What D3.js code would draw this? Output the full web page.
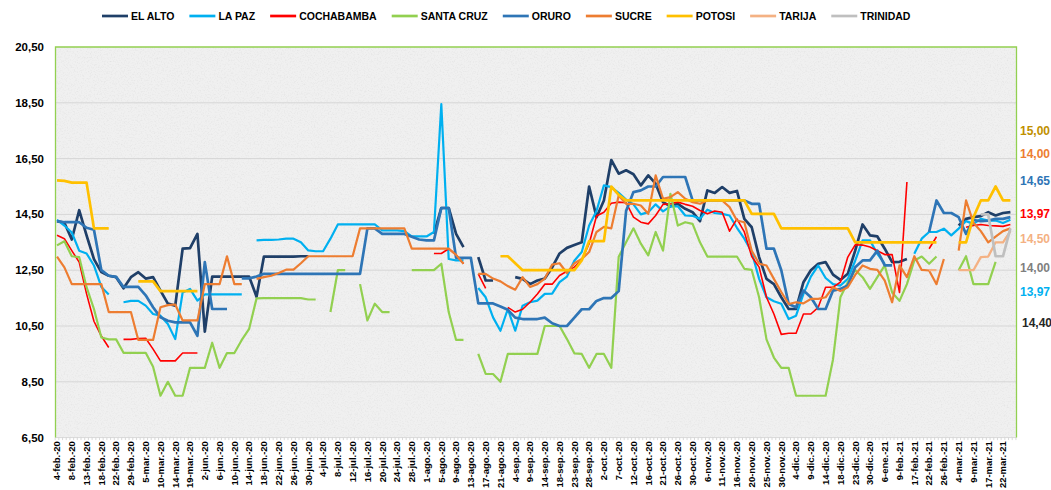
<!DOCTYPE html>
<html><head><meta charset="utf-8">
<script src="https://cdn.jsdelivr.net/npm/d3@7"></script>
<style>
html,body{margin:0;padding:0;background:#fff;}
svg{display:block;font-family:"Liberation Sans",Arial,sans-serif;}
</style></head><body>
<svg id="chart" width="1051" height="490"></svg>
<script>
const _ = null;

const dateLabels = ["4-feb.-20","8-feb.-20","13-feb.-20","18-feb.-20","22-feb.-20","29-feb.-20","5-mar.-20","10-mar.-20","14-mar.-20","19-mar.-20",
"2-jun.-20","6-jun.-20","10-jun.-20","14-jun.-20","18-jun.-20","22-jun.-20","26-jun.-20","30-jun.-20",
"4-jul.-20","8-jul.-20","12-jul.-20","16-jul.-20","20-jul.-20","24-jul.-20","28-jul.-20",
"1-ago.-20","5-ago.-20","9-ago.-20","13-ago.-20","17-ago.-20","21-ago.-20",
"4-sep.-20","9-sep.-20","14-sep.-20","18-sep.-20","23-sep.-20","28-sep.-20",
"2-oct.-20","7-oct.-20","12-oct.-20","16-oct.-20","21-oct.-20","26-oct.-20","30-oct.-20",
"6-nov.-20","11-nov.-20","16-nov.-20","20-nov.-20","25-nov.-20","30-nov.-20",
"4-dic.-20","9-dic.-20","14-dic.-20","18-dic.-20","23-dic.-20","30-dic.-20",
"6-ene.-21","9-feb.-21","17-feb.-21","22-feb.-21","26-feb.-21","4-mar.-21","9-mar.-21","17-mar.-21","22-mar.-21"];

const elAlto = [
14.26,14.2,13.6,14.65,13.75,12.9,12.43,12.3,12.25,11.85,
12.25,12.43,12.2,12.25,11.77,11.3,11.23,13.27,13.29,13.8,
10.3,12.27,12.27,12.27,12.27,12.27,12.27,11.55,12.99,12.99,
12.99,12.99,12.99,13.0,13.0,_,_,_,_,_,
_,_,_,_,_,_,_,_,_,_,
_,13.8,14.73,14.73,13.8,13.33,_,12.97,12.13,12.13,
_,_,12.25,12.19,12.0,12.13,12.2,12.6,13.1,13.3,
13.4,13.5,15.5,14.4,15.0,16.45,15.96,16.08,15.94,15.54,
15.9,15.6,14.94,14.79,14.88,14.7,14.58,14.26,15.36,15.27,
15.48,15.27,15.34,14.34,14.04,12.97,12.19,12.0,11.53,11.11,
11.11,12.07,12.5,12.73,12.79,12.34,12.15,12.37,13.2,14.14,
13.75,13.71,13.27,12.79,12.8,12.9,_,_,_,_,
_,_,14.1,14.34,14.4,14.44,14.58,14.46,14.55,14.58];

const laPaz = [
14.3,14.1,13.85,13.2,13.1,12.67,11.9,11.63,_,11.35,
11.4,11.4,11.23,10.93,10.87,10.57,10.03,11.7,11.83,11.41,
11.63,11.63,11.63,11.63,11.63,11.63,_,13.57,13.59,13.59,
13.6,13.63,13.63,13.5,13.21,13.18,13.18,13.63,14.14,14.14,
14.14,14.14,14.14,14.14,13.93,13.93,13.93,13.9,13.71,13.71,
13.71,13.87,18.45,12.9,12.85,12.85,_,11.86,11.53,10.81,
10.33,11.11,10.33,11.23,11.35,11.41,11.65,11.66,12.07,12.27,
12.84,13.15,14.1,14.62,15.54,15.48,15.27,15.03,14.86,14.5,
14.58,14.86,14.61,14.79,14.79,14.46,14.45,14.34,14.67,14.55,
14.52,14.46,14.02,13.63,13.15,12.19,11.53,11.39,11.3,10.75,
10.87,11.65,12.27,12.67,12.22,12.0,11.95,12.19,12.84,13.57,
13.57,13.09,12.73,_,_,_,13.09,13.63,13.87,13.87,
13.99,13.75,13.99,14.26,14.16,14.34,14.28,14.28,14.19,14.31];

const cochabamba = [
13.75,13.63,13.2,12.79,11.65,10.67,10.14,9.73,_,10.02,
10.02,10.05,10.06,9.67,9.25,9.25,9.25,9.53,9.53,9.53,
_,_,_,_,_,_,_,_,_,_,
_,_,_,_,_,_,_,_,_,_,
_,_,_,_,_,_,_,_,_,_,
_,13.1,13.1,13.27,13.05,12.73,_,12.37,11.85,_,
_,11.17,11.0,11.1,11.35,11.65,12.0,12.0,12.31,12.46,
12.61,12.87,13.45,14.44,14.58,14.9,14.94,14.92,14.4,14.22,
14.16,14.46,14.86,14.88,14.94,14.86,14.79,14.64,14.52,14.62,
14.58,13.9,14.34,13.87,12.99,12.61,11.53,10.93,10.2,10.24,
10.24,10.93,10.93,11.17,11.89,11.89,12.07,12.97,13.41,13.4,
13.33,13.2,13.06,13.06,11.7,15.66,_,_,13.27,13.7,
_,_,_,14.04,14.1,14.14,14.1,14.09,14.07,14.14];

const santaCruz = [
13.39,13.54,13.0,12.97,11.89,11.11,10.09,10.02,10.02,9.54,
9.54,9.54,9.54,9.04,8.0,8.5,8.0,8.0,9.0,9.0,
9.0,9.9,9.0,9.53,9.53,10.0,10.4,11.49,11.5,11.5,
11.5,11.5,11.5,11.5,11.45,11.45,_,11.0,12.5,12.5,
_,12.0,10.7,11.3,11.0,11.0,_,_,12.5,12.5,
12.5,12.5,12.73,11.0,10.0,10.0,_,9.5,8.78,8.78,
8.5,9.5,9.5,9.5,9.5,9.5,10.5,10.5,10.5,10.03,
9.52,9.5,9.0,9.5,9.5,9.0,12.98,13.5,14.0,13.45,
13.03,13.87,13.2,15.24,14.1,14.22,14.16,13.5,12.99,12.99,
12.99,12.99,12.99,12.55,12.51,11.53,10.02,9.37,9.0,9.0,
8.0,8.0,8.0,8.0,8.0,9.3,11.53,12.07,12.51,12.25,
11.83,12.25,12.67,11.7,11.4,12.0,12.85,12.99,12.73,12.99,
_,_,12.5,13.0,12.0,12.0,12.0,12.8,_,_];

const oruro = [
14.26,14.22,14.22,14.22,14.02,13.95,12.5,12.3,12.26,11.9,
11.9,11.9,11.6,11.17,10.81,10.69,10.63,10.63,10.63,10.15,
12.79,11.11,11.11,11.11,_,12.21,12.21,12.27,12.37,12.37,
12.37,12.37,12.37,12.37,12.37,12.37,12.37,12.37,12.37,12.37,
12.37,12.37,14.0,14.0,13.8,13.8,13.8,13.8,13.7,13.6,
13.57,13.57,14.73,14.73,12.94,12.94,12.94,11.31,11.31,11.31,
11.2,11.08,10.8,10.75,10.75,10.75,10.8,10.6,10.5,10.5,
10.8,11.1,11.1,11.4,11.5,11.5,11.75,14.62,15.3,15.36,
15.5,15.5,15.84,15.84,15.84,15.84,15.0,15.0,15.0,15.0,
15.0,15.0,15.0,15.0,14.88,14.88,13.27,13.27,12.5,11.29,
11.17,11.77,11.53,11.11,11.11,11.77,11.83,11.95,12.61,12.85,
12.85,13.2,12.67,12.67,_,_,_,_,13.87,15.0,
14.55,14.55,14.4,13.8,14.3,14.26,14.28,14.34,14.34,14.4];

const sucre = [
12.99,12.6,12.0,12.0,12.0,12.0,12.0,11.0,11.0,11.0,
11.0,10.0,10.0,10.0,11.17,11.25,11.27,10.7,10.7,10.7,
12.0,12.0,12.0,13.0,12.0,12.0,_,12.19,12.25,12.3,
12.4,12.52,12.52,12.75,13.0,13.0,13.0,13.0,13.0,13.0,
13.0,14.0,14.0,14.0,14.0,14.0,14.0,14.0,13.27,13.27,
13.27,13.27,13.27,13.27,13.05,12.73,_,12.37,12.37,12.2,
12.1,11.93,11.8,12.25,11.9,12.0,12.2,12.7,12.75,12.4,
12.75,12.9,13.15,13.87,14.05,14.0,15.18,14.88,14.88,14.82,
14.52,15.9,15.06,15.12,15.3,15.06,14.94,14.88,15.0,15.0,
15.0,14.76,14.28,14.22,13.2,12.73,12.67,12.19,11.72,11.29,
11.35,11.31,11.47,11.47,11.53,11.89,11.75,11.89,12.33,12.67,
12.55,12.51,12.13,11.35,12.67,12.25,13.0,12.51,12.49,12.0,
12.9,_,13.2,15.0,14.2,13.9,13.5,13.7,13.9,14.0];

const potosi = [
15.72,15.7,15.64,15.64,15.64,14.0,14.0,14.0,_,_,
_,12.1,12.1,12.1,11.75,11.75,11.75,11.75,11.75,11.75,
_,_,_,_,_,_,_,_,_,_,
_,_,_,_,_,_,_,_,_,_,
_,_,_,_,_,_,_,_,_,_,
_,_,_,_,_,_,_,_,_,_,
13.0,13.0,12.75,12.5,12.5,12.5,12.5,12.5,12.5,12.5,
12.5,12.85,13.54,13.54,13.54,15.5,15.2,15.0,15.0,15.0,
15.0,15.0,15.0,15.0,15.0,15.0,15.0,15.0,15.0,15.0,
15.0,15.0,15.0,15.0,14.52,14.52,14.52,14.52,14.0,14.0,
14.0,14.0,14.0,14.0,14.0,14.0,14.0,14.0,13.5,13.5,
13.5,13.5,13.5,13.5,13.5,13.5,13.5,13.5,13.5,13.5,
_,_,13.5,13.5,14.4,15.0,15.0,15.5,15.0,15.0];

const tarija = [
_,_,_,_,_,_,_,_,_,_,
_,_,_,_,_,_,_,_,_,_,
_,_,_,_,_,_,_,_,_,_,
_,_,_,_,_,_,_,_,_,_,
_,_,_,_,_,_,_,_,_,_,
_,_,_,_,_,_,_,_,_,_,
_,_,_,_,_,_,_,_,_,_,
_,_,_,_,_,_,_,_,_,_,
_,_,_,_,_,_,_,_,_,_,
_,_,_,_,_,_,_,_,_,_,
_,_,_,_,_,_,_,_,_,_,
_,_,_,_,_,_,_,_,12.5,12.5,
_,_,12.5,12.5,12.5,12.97,12.99,13.5,13.5,13.9];

const trinidad = [
_,_,_,_,_,_,_,_,_,_,
_,_,_,_,_,_,_,_,_,_,
_,_,_,_,_,_,_,_,_,_,
_,_,_,_,_,_,_,_,_,_,
_,_,_,_,_,_,_,_,_,_,
_,_,_,_,_,_,_,_,_,_,
_,_,_,_,_,_,_,_,_,_,
_,_,_,_,_,_,_,_,_,_,
_,_,_,_,_,_,_,_,_,_,
_,_,_,_,_,_,_,_,_,_,
_,_,_,_,_,_,_,_,_,_,
_,_,_,_,_,_,_,_,_,_,
_,_,_,_,_,14.5,14.5,13.0,13.0,14.0];

const seriesNames = ["EL ALTO","LA PAZ","COCHABAMBA","SANTA CRUZ","ORURO","SUCRE","POTOSI","TARIJA","TRINIDAD"];
const seriesValues = [elAlto, laPaz, cochabamba, santaCruz, oruro, sucre, potosi, tarija, trinidad];
const seriesColors = ["#1f3f68","#00b0f0","#ff0000","#92d050","#2e75b6","#ed7d31","#ffc000","#f4b183","#bfbfbf"];
const seriesWidths = [2.7,2.2,1.6,2.2,2.7,2.2,2.7,2.3,2.7];

const yTicks = [6.5,8.5,10.5,12.5,14.5,16.5,18.5,20.5];
const endLabels = ["15,00","14,00","14,65","13,97","14,50","14,00","13,97","14,40"];
const endLabelColors = ["#bf9000","#ed7d31","#2e75b6","#ff0000","#f4b183","#7f7f7f","#00b0f0","#262626"];

// ---------- layout ----------
const svg = d3.select("#chart");
const plot = {left:55.5, right:1016.5, top:47, bottom:437.6};
const x = d3.scaleLinear().domain([0, 128]).range([57, 1003]);
const y = d3.scaleLinear().domain([6.5, 20.5]).range([plot.bottom, plot.top]);
const fmt = v => d3.format(".2f")(v).replace(".", ",");

const defs = svg.append("defs");
const f = defs.append("filter").attr("id","grain").attr("x",0).attr("y",0).attr("width",1).attr("height",1);
f.append("feTurbulence").attr("type","fractalNoise").attr("baseFrequency",0.7).attr("numOctaves",3).attr("seed",7).attr("result","n");
f.append("feColorMatrix").attr("in","n").attr("type","matrix")
  .attr("values","0 0 0 0 0.55  0 0 0 0 0.55  0 0 0 0 0.55  1.6 0 0 0 -0.75");
defs.append("clipPath").attr("id","clip").append("rect")
  .attr("x",plot.left).attr("y",plot.top-30).attr("width",plot.right-plot.left).attr("height",plot.bottom-plot.top+30);

// background
svg.append("rect").attr("x",plot.left).attr("y",plot.top).attr("width",plot.right-plot.left)
  .attr("height",plot.bottom-plot.top).attr("fill","#f0f0f0");
svg.append("rect").attr("x",plot.left).attr("y",plot.top).attr("width",plot.right-plot.left)
  .attr("height",plot.bottom-plot.top).attr("filter","url(#grain)").attr("opacity",0.35);

// gridlines
svg.append("g").selectAll("line").data(yTicks.slice(1,-1)).join("line")
  .attr("x1",plot.left).attr("x2",plot.right).attr("y1",d=>y(d)).attr("y2",d=>y(d))
  .attr("stroke","#d6d6d6").attr("stroke-width",1);

// bottom axis line + small ticks
svg.append("line").attr("x1",plot.left).attr("x2",plot.right).attr("y1",plot.bottom).attr("y2",plot.bottom)
  .attr("stroke","#d9d9d9").attr("stroke-width",1);
const tickIdx = d3.range(-0.25, 129.8, 0.5);
svg.append("g").selectAll("line").data(tickIdx).join("line")
  .attr("x1",d=>x(d)).attr("x2",d=>x(d)).attr("y1",plot.bottom).attr("y2",plot.bottom+2.5)
  .attr("stroke","#cfcfcf").attr("stroke-width",0.8);

// frame (green)
svg.append("path")
  .attr("d",`M${plot.left},${plot.bottom}V${plot.top}H${plot.right}V${plot.bottom}`)
  .attr("fill","none").attr("stroke","#92d050").attr("stroke-width",1.3);

// y axis labels
svg.append("g").selectAll("text").data(yTicks).join("text")
  .attr("x",44).attr("y",d=>y(d)).attr("dy","0.35em").attr("text-anchor","end")
  .attr("font-size","11.5px").attr("font-weight","bold").attr("fill","#000").text(fmt);

// x axis labels
svg.append("g").selectAll("text").data(dateLabels).join("text")
  .attr("transform",(d,k)=>`translate(${x(2*k)},${plot.bottom+3.5}) rotate(-90)`)
  .attr("dy","0.35em").attr("text-anchor","end")
  .attr("font-size","9.5px").attr("font-weight","bold").attr("fill","#000").text(d=>d);

// lines
const line = d3.line().defined(d=>d!=null).x((d,i)=>x(i)).y(d=>y(d));
const lg = svg.append("g").attr("clip-path","url(#clip)");
seriesValues.forEach((vals,s)=>{
  lg.append("path").attr("d",line(vals)).attr("fill","none")
    .attr("stroke",seriesColors[s]).attr("stroke-width",seriesWidths[s])
    .attr("stroke-linejoin","round").attr("stroke-linecap","butt");
});

// legend
const leg = svg.append("g");
let lx = 102;
seriesNames.forEach((n,s)=>{
  leg.append("line").attr("x1",lx).attr("x2",lx+26).attr("y1",16).attr("y2",16)
    .attr("stroke",seriesColors[s]).attr("stroke-width",2.7);
  const t = leg.append("text").attr("x",lx+29).attr("y",16).attr("dy","0.35em")
    .attr("font-size","10.5px").attr("font-weight","bold").attr("fill","#000").text(n);
  lx += 29 + t.node().getComputedTextLength() + 15;
});

// end labels on the right
const endLabelY = [131,154,181,214,239,268,292,323];
svg.append("g").selectAll("text").data(endLabels).join("text")
  .attr("x",(d,k)=> k===7 ? 1022 : 1020).attr("y",(d,k)=>endLabelY[k]).attr("dy","0.35em")
  .attr("font-size","12px").attr("font-weight","bold")
  .attr("fill",(d,k)=>endLabelColors[k]).text(d=>d);
</script>
</body></html>
